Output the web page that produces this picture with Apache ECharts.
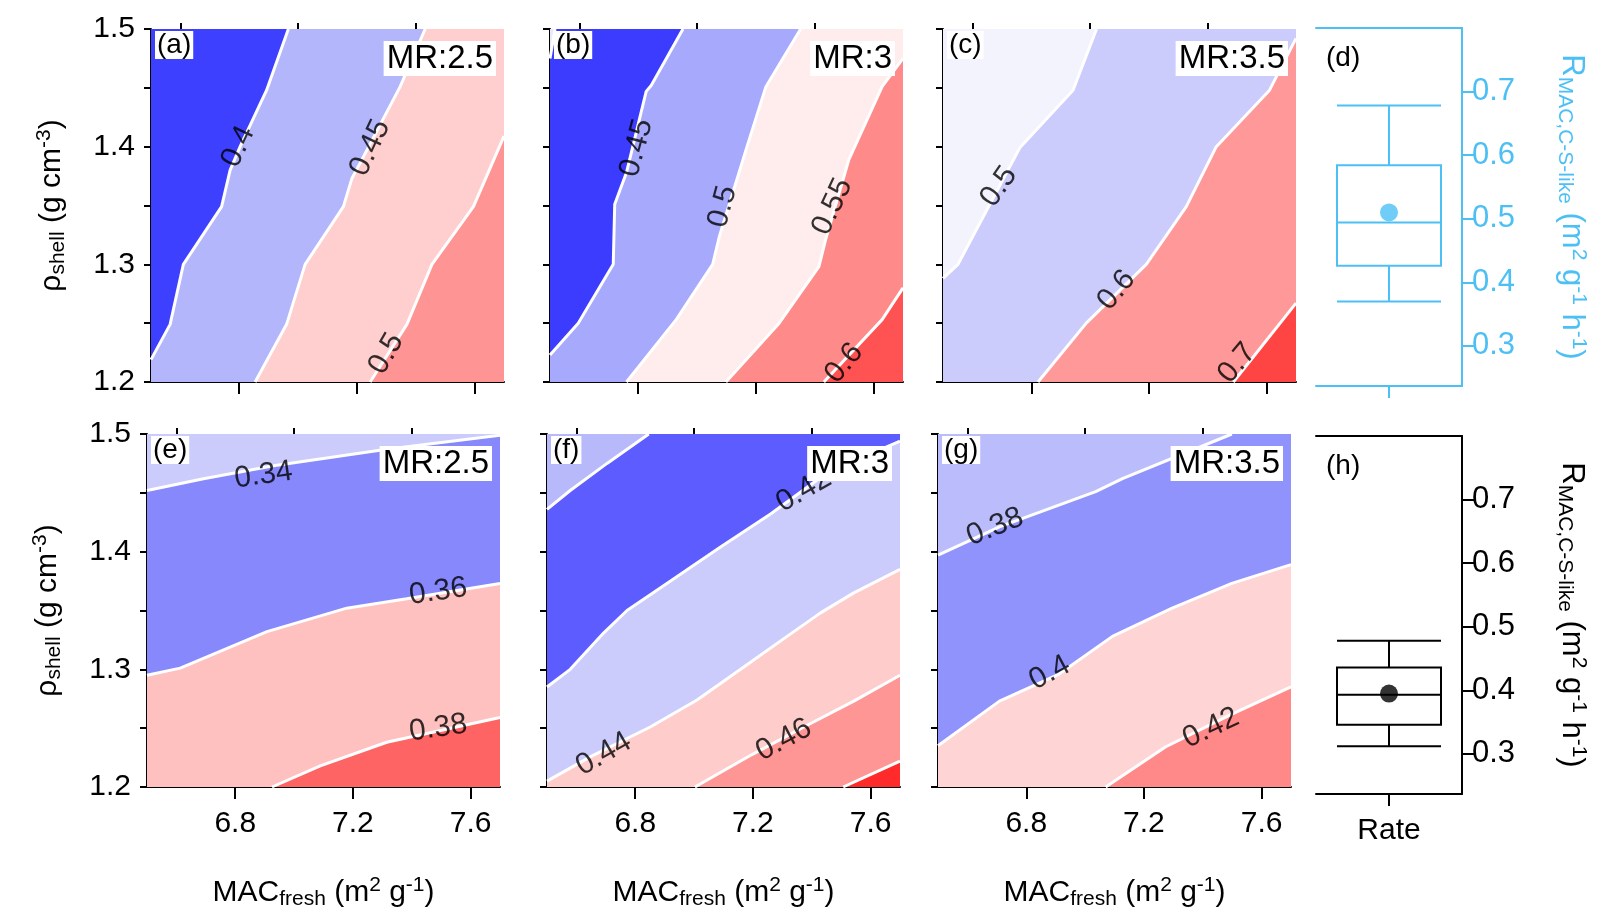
<!DOCTYPE html>
<html>
<head>
<meta charset="utf-8">
<script src="https://cdn.jsdelivr.net/npm/echarts@6/dist/echarts.min.js"></script>
<style>html,body{margin:0;padding:0;background:#fff;}#main{width:1622px;height:924px;}</style>
</head>
<body>
<div id="main"></div>
<script>
// contour lines, [MACfresh, rho_shell]
var linesA = [
  [[6.5,1.219],[6.565,1.249],[6.61,1.3],[6.74,1.349],[6.769,1.38],[6.803,1.4],[6.893,1.448],[6.967,1.5]],
  [[6.854,1.2],[6.961,1.249],[7.024,1.3],[7.154,1.349],[7.183,1.373],[7.217,1.389],[7.347,1.451],[7.432,1.5]],
  [[7.245,1.2],[7.37,1.249],[7.455,1.3],[7.596,1.349],[7.7,1.409]]
];
var linesB = [
  [[6.5,1.475],[6.517,1.5]],
  [[6.5,1.223],[6.596,1.25],[6.715,1.3],[6.72,1.351],[6.76,1.378],[6.827,1.447],[6.844,1.452],[6.952,1.5]],
  [[6.76,1.2],[6.929,1.253],[7.053,1.3],[7.076,1.324],[7.166,1.397],[7.234,1.451],[7.352,1.5]],
  [[7.098,1.2],[7.279,1.25],[7.414,1.298],[7.437,1.321],[7.516,1.389],[7.629,1.451],[7.7,1.475]],
  [[7.431,1.2],[7.629,1.253],[7.7,1.28]]
];
var linesC = [
  [[6.5,1.288],[6.551,1.3],[6.761,1.399],[6.942,1.448],[7.022,1.5]],
  [[6.823,1.2],[6.987,1.25],[7.191,1.3],[7.327,1.349],[7.429,1.4],[7.61,1.448],[7.7,1.492]],
  [[7.487,1.2],[7.7,1.267]]
];
var linesE = [
  [[6.5,1.452],[6.692,1.462],[6.93,1.473],[7.315,1.487],[7.7,1.499]],
  [[6.5,1.295],[6.613,1.301],[6.908,1.332],[7.179,1.352],[7.383,1.36],[7.7,1.373]],
  [[6.925,1.2],[7.089,1.218],[7.315,1.238],[7.7,1.259]]
];
var linesF = [
  [[6.5,1.436],[6.579,1.452],[6.704,1.475],[6.846,1.5]],
  [[6.5,1.285],[6.579,1.3],[6.693,1.331],[6.772,1.35],[6.92,1.375],[7.09,1.404],[7.26,1.432],[7.43,1.463],[7.543,1.477],[7.7,1.494]],
  [[6.5,1.205],[6.65,1.226],[6.851,1.251],[7.01,1.274],[7.169,1.302],[7.316,1.328],[7.43,1.348],[7.543,1.365],[7.7,1.385]],
  [[7.003,1.2],[7.2,1.228],[7.396,1.254],[7.543,1.273],[7.7,1.295]],
  [[7.507,1.2],[7.7,1.222]]
];
var linesG = [
  [[6.5,1.397],[6.709,1.421],[7.036,1.451],[7.127,1.462],[7.499,1.5]],
  [[6.5,1.235],[6.709,1.273],[6.912,1.296],[7.093,1.328],[7.296,1.352],[7.499,1.373],[7.7,1.389]],
  [[7.07,1.2],[7.273,1.234],[7.499,1.262],[7.7,1.285]]
];
// band colours, top-left band first
var colorsA = ['#3e40ff','#b4b6fc','#ffcfcf','#ff9494'];
var colorsB = ['#e8e8ff','#3c3cff','#a7a9fc','#ffecec','#ff8a8a','#ff5252'];
var colorsC = ['#f3f3fe','#cbcbfc','#ff9898','#ff4444'];
var colorsE = ['#cbcbfc','#8688fc','#ffc0c0','#ff6464'];
var colorsF = ['#b8b9fa','#5c5cff','#cbcbfc','#ffcccc','#ff9696','#ff2a2a'];
var colorsG = ['#bbbcfc','#9093fc','#ffd4d4','#ff8888'];
// contour labels [x, y, text, angle]
var labelsA = [[6.797,1.40,'0.4',65],[7.245,1.399,'0.45',65],[7.30,1.224,'0.5',60]];
var labelsB = [[6.794,1.399,'0.45',75],[7.087,1.349,'0.5',75],[7.46,1.349,'0.55',65],[7.5,1.216,'0.6',50]];
var labelsC = [[6.69,1.366,'0.5',55],[7.09,1.278,'0.6',50],[7.5,1.216,'0.7',50]];
var labelsE = [[6.896,1.465,'0.34',8],[7.49,1.366,'0.36',8],[7.49,1.25,'0.38',8]];
var labelsF = [[7.373,1.452,'0.42',30],[6.693,1.228,'0.44',30],[7.305,1.24,'0.46',28]];
var labelsG = [[6.694,1.421,'0.38',22],[6.88,1.297,'0.4',28],[7.428,1.25,'0.42',25]];
// box plots: [min, q1, median, q3, max] and mean
var boxD = [0.37,0.426,0.494,0.584,0.678];
var meanD = 0.51;
var boxH = [0.312,0.346,0.393,0.436,0.478];
var meanH = 0.395;

var xMajor = [6.8,7.2,7.6];
var xMinor = [6.6,7.0,7.4];
var yTicks = [1.2,1.25,1.3,1.35,1.4,1.45,1.5];
var yLabels = [1.2,1.3,1.4,1.5];
var rTicks = [0.3,0.4,0.5,0.6,0.7];

var XMIN = 6.5, XMAX = 7.7, YMIN = 1.2, YMAX = 1.5;
var FONT = 'Liberation Sans';
var cyan = '#4cc0f5';

var panels = [
  {id:'(a)', mr:'MR:2.5', left:151, top:29, lines:linesA, colors:colorsA, labels:labelsA, ylab:true, xlab:false},
  {id:'(b)', mr:'MR:3', left:550, top:29, lines:linesB, colors:colorsB, labels:labelsB, ylab:false, xlab:false},
  {id:'(c)', mr:'MR:3.5', left:943, top:29, lines:linesC, colors:colorsC, labels:labelsC, ylab:false, xlab:false},
  {id:'(e)', mr:'MR:2.5', left:147, top:434, lines:linesE, colors:colorsE, labels:labelsE, ylab:true, xlab:true},
  {id:'(f)', mr:'MR:3', left:547, top:434, lines:linesF, colors:colorsF, labels:labelsF, ylab:false, xlab:true},
  {id:'(g)', mr:'MR:3.5', left:938, top:434, lines:linesG, colors:colorsG, labels:labelsG, ylab:false, xlab:true}
];
var W = 353, H = 353;

function bandPolygon(line) {
  var pts = line.slice();
  var s = line[0], e = line[line.length - 1];
  if (e[1] >= YMAX - 1e-6) pts.push([XMAX, YMAX]);
  pts.push([XMAX, YMIN]);
  if (s[0] <= XMIN + 1e-6) pts.push([XMIN, YMIN]);
  return pts;
}

var grid = [], xAxis = [], yAxis = [], series = [], graphic = [];
var axisText = {color:'#000', fontFamily:FONT, fontSize:30};
var subRich = {
  sub:{fontSize:21, fontFamily:FONT, color:'#000', verticalAlign:'bottom', padding:[14,0,0,0]},
  sup:{fontSize:21, fontFamily:FONT, color:'#000', verticalAlign:'top', padding:[0,0,14,0]}
};

panels.forEach(function (p, i) {
  grid.push({left:p.left, top:p.top, width:W, height:H});
  var xa = {
    type:'value', gridIndex:i, min:XMIN, max:XMAX, splitLine:{show:false},
    axisLine:{show:true, onZero:false, lineStyle:{color:'#000', width:2}},
    axisTick:{show:true, length:12, customValues:xMajor, lineStyle:{color:'#000', width:2}},
    axisLabel:{show:p.xlab, customValues:xMajor, margin:22, fontSize:30, fontFamily:FONT, color:'#000'}
  };
  if (p.xlab) {
    xa.name = 'MAC{sub|fresh} (m{sup|2} g{sup|-1})';
    xa.nameLocation = 'middle';
    xa.nameGap = 88;
    xa.nameTextStyle = {fontSize:30, fontFamily:FONT, color:'#000', rich:subRich};
  }
  xAxis.push(xa);
  xAxis.push({
    type:'value', gridIndex:i, min:XMIN, max:XMAX, splitLine:{show:false},
    axisLine:{show:false, onZero:false},
    axisTick:{show:true, length:6, customValues:xMinor, lineStyle:{color:'#000', width:2}},
    axisLabel:{show:false}
  });
  var ya = {
    type:'value', gridIndex:i, min:YMIN, max:YMAX, splitLine:{show:false},
    axisLine:{show:true, onZero:false, lineStyle:{color:'#000', width:2}},
    axisTick:{show:true, length:7, customValues:yTicks, lineStyle:{color:'#000', width:2}},
    axisLabel:{show:p.ylab, customValues:yLabels, margin:16, fontSize:30, fontFamily:FONT, color:'#000',
      formatter:function (v) { return v.toFixed(1); }}
  };
  if (p.ylab) {
    ya.name = 'ρ{sub|shell} (g cm{sup|-3})';
    ya.nameLocation = 'middle';
    ya.nameGap = 82;
    ya.nameRotate = 90;
    ya.nameTextStyle = {fontSize:30, fontFamily:FONT, color:'#000', rich:subRich};
  }
  yAxis.push(ya);
  var xi = i * 2;

  // filled bands
  var polys = [[[XMIN,YMIN],[XMAX,YMIN],[XMAX,YMAX],[XMIN,YMAX]]].concat(p.lines.map(bandPolygon));
  series.push({
    type:'custom', xAxisIndex:xi, yAxisIndex:i, clip:true, silent:true, z:1,
    data:polys.map(function (pp, k) { return k; }),
    renderItem:function (params, api) {
      var k = params.dataIndex;
      return {type:'polygon', shape:{points:polys[k].map(function (pt) { return api.coord(pt); })},
        style:{fill:p.colors[k], stroke:null}};
    }
  });
  p.lines.forEach(function (ln) {
    series.push({type:'line', xAxisIndex:xi, yAxisIndex:i, data:ln, symbol:'none', silent:true, z:3,
      lineStyle:{color:'#fff', width:3}, animation:false});
  });
  series.push({
    type:'scatter', xAxisIndex:xi, yAxisIndex:i, symbolSize:0, z:4, silent:true,
    data:p.labels.map(function (l) { return {value:[l[0], l[1]], name:l[2],
      label:{show:true, position:'inside', formatter:l[2], rotate:l[3], fontSize:30, fontFamily:FONT, color:'#000'}}; })
  });
  graphic.push({type:'text', left:p.left + 4, top:p.top + 2, z:100,
    style:{text:p.id, fontSize:28, fontFamily:FONT, fill:'#000', backgroundColor:'#fff', padding:[0,2]}});
  graphic.push({type:'text', right:1622 - (p.left + W) + 8, top:p.top + 12, z:100,
    style:{text:p.mr, fontSize:33, fontFamily:FONT, fill:'#000', backgroundColor:'#fff', padding:[1,3]}});
});

// box plot panels
var boxPanels = [
  {id:'(d)', top:28, box:boxD, mean:meanD, color:cyan, cat:''},
  {id:'(h)', top:436, box:boxH, mean:meanH, color:'#000', cat:'Rate'}
];
boxPanels.forEach(function (b, j) {
  var gi = grid.length;
  grid.push({left:1316, top:b.top, width:146, height:358});
  xAxis.push({type:'category', gridIndex:gi, data:['Rate'], position:'bottom',
    axisLine:{show:true, lineStyle:{color:b.color, width:2}},
    axisTick:{show:true, alignWithLabel:true, length:12, lineStyle:{color:b.color, width:2}},
    axisLabel:{show:b.cat !== '', margin:22, fontSize:30, fontFamily:FONT, color:'#000'}});
  xAxis.push({type:'category', gridIndex:gi, data:['Rate'], position:'top',
    axisLine:{show:true, lineStyle:{color:b.color, width:2}}, axisTick:{show:false}, axisLabel:{show:false}});
  var nameRich = {
    sub:{fontSize:21, fontFamily:FONT, color:b.color, verticalAlign:'bottom', padding:[14,0,0,0]},
    sup:{fontSize:21, fontFamily:FONT, color:b.color, verticalAlign:'top', padding:[0,0,14,0]}
  };
  yAxis.push({type:'value', gridIndex:gi, position:'right', min:0.237, max:0.8, splitLine:{show:false},
    axisLine:{show:true, onZero:false, lineStyle:{color:b.color, width:2}},
    axisTick:{show:true, length:12, customValues:rTicks, lineStyle:{color:b.color, width:2}},
    axisLabel:{customValues:rTicks, margin:10, fontSize:31, fontFamily:FONT, color:b.color,
      formatter:function (v) { return v.toFixed(1); }},
    name:'R{sub|MAC,C-S-like} (m{sup|2} g{sup|-1} h{sup|-1})', nameLocation:'middle', nameRotate:-90, nameGap:92,
    nameTextStyle:{fontSize:31, fontFamily:FONT, color:b.color, rich:nameRich}});
  var xi = xAxis.length - 2;
  series.push({type:'boxplot', xAxisIndex:xi, yAxisIndex:gi, data:[b.box], boxWidth:[104,104],
    itemStyle:{color:'#fff', borderColor:b.color, borderWidth:2}, silent:true});
  series.push({type:'scatter', xAxisIndex:xi, yAxisIndex:gi, data:[['Rate', b.mean]], symbolSize:18,
    itemStyle:{color:b.color}, z:5, silent:true});
  graphic.push({type:'text', left:1326, top:b.top + 16, z:100,
    style:{text:b.id, fontSize:28, fontFamily:FONT, fill:'#000'}});
});

var chart = echarts.init(document.getElementById('main'));
chart.setOption({
  backgroundColor:'#fff',
  animation:false,
  grid:grid, xAxis:xAxis, yAxis:yAxis, series:series, graphic:graphic
});
</script>
</body>
</html>
